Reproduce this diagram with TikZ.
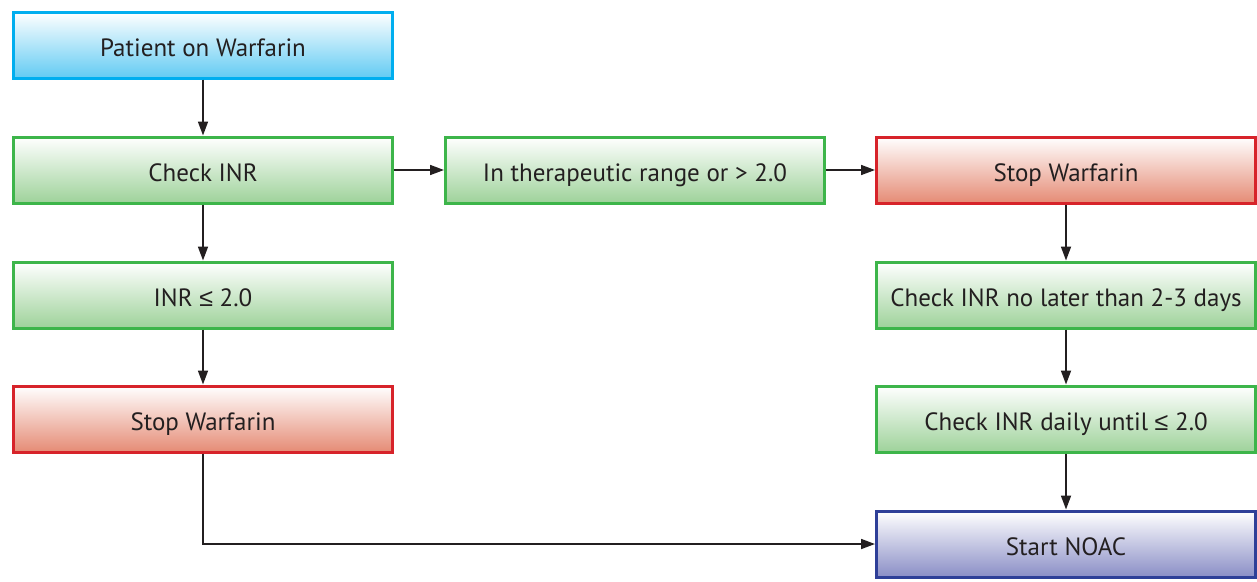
\documentclass[tikz,border=0pt]{standalone}
\usepackage{fontspec}
\setmainfont{PT Sans}
\newfontfamily\lesym{Liberation Sans}
\newcommand{\myle}{{\lesym ≤}}
\usetikzlibrary{arrows.meta}
\definecolor{bluebd}{HTML}{00AEEF}
\definecolor{bluefl}{HTML}{62CBF3}
\definecolor{greenbd}{HTML}{3DB54A}
\definecolor{greenfl}{HTML}{9ED29A}
\definecolor{redbd}{HTML}{D7232A}
\definecolor{redfl}{HTML}{E58B75}
\definecolor{navybd}{HTML}{2E3F98}
\definecolor{navyfl}{HTML}{8A8EC6}
\definecolor{txt}{HTML}{231F20}
\tikzset{
  box/.style={draw, line width=3pt, minimum width=379pt, minimum height=66pt,
    inner sep=0pt, font=\fontsize{25}{28}\selectfont, text=txt, top color=white,
    text height=22pt, text depth=0pt},
  bluebox/.style={box, draw=bluebd, bottom color=bluefl},
  greenbox/.style={box, draw=greenbd, bottom color=greenfl},
  redbox/.style={box, draw=redbd, bottom color=redfl},
  navybox/.style={box, draw=navybd, bottom color=navyfl},
  conn/.style={line width=1.7pt, draw=txt, -{Triangle[length=14pt,width=10pt]}}
}
\begin{document}
\begin{tikzpicture}[x=1pt,y=-1pt]
\useasboundingbox (0,0) rectangle (1257,581);
\node[bluebox]  (pat)   at (203,45)  {Patient on Warfarin};
\node[greenbox] (chk)   at (203,170) {Check INR};
\node[greenbox] (low)   at (203,295) {INR \myle{} 2.0};
\node[redbox]   (stopl) at (203,419) {Stop Warfarin};
\node[greenbox] (ther)  at (635,170) {In therapeutic range or > 2.0};
\node[redbox]   (stopr) at (1066,170) {Stop Warfarin};
\node[greenbox] (late)  at (1066,295) {Check INR no later than 2-3 days};
\node[greenbox] (daily) at (1066,419) {Check INR daily until \myle{} 2.0};
\node[navybox]  (noac)  at (1066,544) {Start NOAC};
\draw[conn] (pat) -- (chk);
\draw[conn] (chk) -- (low);
\draw[conn] (low) -- (stopl);
\draw[conn] (chk) -- (ther);
\draw[conn] (ther) -- (stopr);
\draw[conn] (stopr) -- (late);
\draw[conn] (late) -- (daily);
\draw[conn] (daily) -- (noac);
\draw[conn] (stopl.south) |- (noac.west);
\end{tikzpicture}
\end{document}
